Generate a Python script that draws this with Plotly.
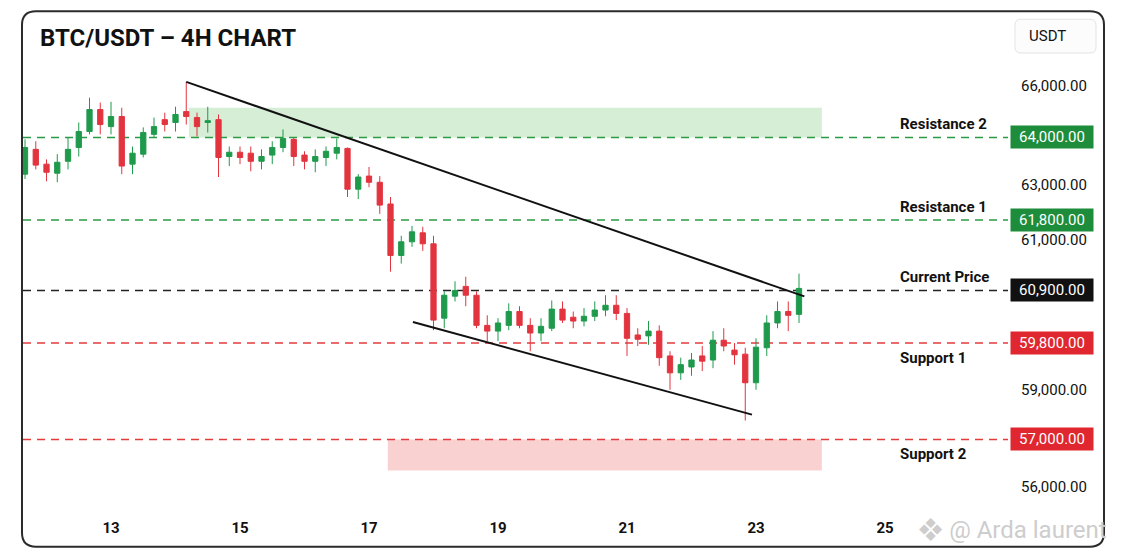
import numpy as np
import pandas as pd
import plotly.graph_objects as go

# BTC/USDT 4H candles
OPEN = [63230, 63750, 63440, 63250, 63500, 63790, 64230, 65080, 64420, 64810,
        63440, 63650, 64120, 64690, 64580, 65000, 64770, 64580, 64690, 63600,
        63690, 63670, 63500, 63630, 63790, 63960, 63630, 63500, 63580, 63670,
        63770, 62860, 63190, 63060, 62350, 60969, 60996, 61280, 60992, 60320,
        60780, 60908, 60800, 60170, 60050, 60170, 60460, 60170, 60010, 60110,
        60510, 60340, 60260, 60360, 60490, 60590, 60420, 59970, 59950, 60050,
        59580, 59290, 59390, 59580, 59510, 59860, 59680, 59610, 59120, 59720,
        60220, 60460, 60400]
HIGH = [63960, 63920, 63540, 63650, 64000, 64580, 65540, 65350, 65380, 65150,
        63810, 64390, 64770, 64960, 65190, 66150, 64960, 65190, 64890, 63810,
        63810, 63810, 63750, 63920, 64310, 64000, 63710, 63750, 63810, 63980,
        63790, 63230, 63380, 63190, 62590, 61160, 61560, 61520, 61160, 60880,
        60918, 60927, 60880, 60380, 60320, 60630, 60570, 60320, 60320, 60690,
        60670, 60460, 60530, 60670, 60800, 60800, 60530, 60110, 60260, 60170,
        59660, 59550, 59630, 59750, 60050, 60110, 59800, 59720, 59900, 60380,
        60670, 60670, 60933]
LOW = [63130, 63330, 63080, 63060, 63330, 63600, 64120, 64120, 64120, 63230,
       63230, 63580, 64000, 64230, 64230, 64500, 64040, 64190, 63170, 63400,
       63440, 63290, 63330, 63440, 63690, 63400, 63330, 63270, 63400, 63540,
       62590, 62520, 62930, 62010, 60937, 60953, 60986, 60978, 60070, 60110,
       60670, 60570, 60110, 59840, 59840, 60070, 60110, 59660, 59840, 60050,
       60220, 60110, 60150, 60260, 60360, 60280, 59580, 59750, 59770, 59410,
       59000, 59170, 59240, 59320, 59370, 59660, 59430, 57760, 59000, 59580,
       60110, 60050, 60220]
CLOSE = [63790, 63420, 63270, 63480, 63750, 64230, 65080, 64500, 64810, 63400,
         63670, 64190, 64420, 64500, 64890, 64810, 64420, 64650, 63580, 63690,
         63580, 63500, 63600, 63790, 63980, 63600, 63500, 63600, 63710, 63790,
         62860, 63170, 63060, 62310, 60969, 60996, 61320, 60992, 60280, 60800,
         60900, 60800, 60170, 60050, 60220, 60460, 60170, 60010, 60150, 60510,
         60280, 60260, 60360, 60490, 60590, 60420, 59900, 59880, 60050, 59550,
         59290, 59430, 59510, 59490, 59860, 59750, 59600, 59120, 59730, 60220,
         60460, 60380, 60904]
TIMES = pd.date_range("2024-08-11 16:00", periods=len(OPEN), freq="4h")

LEVEL_NAMES = ["Resistance 2", "Resistance 1", "Current Price", "Support 1", "Support 2"]
LEVEL_PRICES = [64000, 61800, 60900, 59800, 57000]
CURRENT_PRICE = 60900

RES_ZONE_T = ["2024-08-14 05:00", "2024-08-24 00:30"]
RES_ZONE_P = [64000, 65150]
SUP_ZONE_T = ["2024-08-17 07:00", "2024-08-24 00:30"]
SUP_ZONE_P = [56350, 57000]

UPPER_TREND_T = ["2024-08-14 04:00", "2024-08-23 18:00"]
UPPER_TREND_P = [66150, 60775]
LOWER_TREND_T = ["2024-08-17 16:20", "2024-08-22 22:30"]
LOWER_TREND_P = [60240, 58000]

AXIS_TICKS = [56000, 59000, 61000, 63000, 66000]
DAY_TICKS = pd.date_range("2024-08-13", "2024-08-25", freq="2D")

# the source chart's price axis is not linear, this maps price -> axis position
SCALE_PRICES = [55000, 56000, 57000, 59000, 59800, 60900, 61000, 61800, 63000, 64000, 66000, 67000]
SCALE_POS = [-48, 0, 48, 98, 145, 198, 249, 269, 304, 352, 404, 430]


def to_axis(p):
    return np.interp(p, SCALE_PRICES, SCALE_POS)


GREEN = "#1f9a4c"
RED = "#e2343f"
BOX_GREEN = "#1d8d3b"
BOX_RED = "#e0262f"
INK = "#111111"
FONT = "Roboto, Inter, sans-serif"

# page has an 8px body margin, so the figure is 16px smaller than the window
PAGE_OFF = 8
W, H = 1106, 541
ML, MR, MT, MB = 15, 106, 47, 41
PW, PH = W - ML - MR, H - MT - MB


def px_x(x):
    # x on the page -> paper coordinate
    return (x - PAGE_OFF - ML) / PW


def px_y(y):
    return (H - MB - (y - PAGE_OFF)) / PH


def rounded_rect(x0, y0, x1, y1, r):
    def p(x, y):
        return f"{px_x(x):.5f},{px_y(y):.5f}"
    return (f"M {p(x0 + r, y0)} L {p(x1 - r, y0)} Q {p(x1, y0)} {p(x1, y0 + r)} "
            f"L {p(x1, y1 - r)} Q {p(x1, y1)} {p(x1 - r, y1)} "
            f"L {p(x0 + r, y1)} Q {p(x0, y1)} {p(x0, y1 - r)} "
            f"L {p(x0, y0 + r)} Q {p(x0, y0)} {p(x0 + r, y0)} Z")


hover = [f"O {o:,.0f}<br>H {h:,.0f}<br>L {l:,.0f}<br>C {c:,.0f}"
         for o, h, l, c in zip(OPEN, HIGH, LOW, CLOSE)]

fig = go.Figure()

fig.add_trace(go.Candlestick(
    x=TIMES, open=to_axis(OPEN), high=to_axis(HIGH), low=to_axis(LOW), close=to_axis(CLOSE),
    increasing=dict(line=dict(color=GREEN, width=1), fillcolor=GREEN),
    decreasing=dict(line=dict(color=RED, width=1), fillcolor=RED),
    whiskerwidth=0, hovertext=hover, hoverinfo="x+text", showlegend=False,
))

for t, p in [(UPPER_TREND_T, UPPER_TREND_P), (LOWER_TREND_T, LOWER_TREND_P)]:
    fig.add_trace(go.Scatter(x=t, y=to_axis(p), mode="lines",
                             line=dict(color=INK, width=2), hoverinfo="skip", showlegend=False))

# zones
fig.add_shape(type="rect", x0=RES_ZONE_T[0], x1=RES_ZONE_T[1],
              y0=to_axis(RES_ZONE_P[0]), y1=to_axis(RES_ZONE_P[1]),
              fillcolor="rgba(70,175,70,0.22)", line_width=0, layer="below")
fig.add_shape(type="rect", x0=SUP_ZONE_T[0], x1=SUP_ZONE_T[1],
              y0=to_axis(SUP_ZONE_P[0]), y1=to_axis(SUP_ZONE_P[1]),
              fillcolor="rgba(235,70,70,0.25)", line_width=0, layer="below")

# levels
for name, price in zip(LEVEL_NAMES, LEVEL_PRICES):
    if price > CURRENT_PRICE:
        line_c, box_c = "#2a9a45", BOX_GREEN
    elif price < CURRENT_PRICE:
        line_c, box_c = "#e43b3b", BOX_RED
    else:
        line_c, box_c = "#222222", INK
    y = float(to_axis(price))
    fig.add_shape(type="line", xref="paper", x0=0, x1=1, y0=y, y1=y,
                  line=dict(color=line_c, width=1.5, dash="8px,6px"), layer="below")
    fig.add_annotation(xref="paper", x=1, xanchor="left", xshift=2, y=y, yref="y",
                       yanchor="middle", text=f"{price:,.2f}", showarrow=False,
                       font=dict(family=FONT, size=15, color="white"),
                       bgcolor=box_c, width=78, height=18, borderpad=2)
    fig.add_annotation(xref="paper", x=px_x(898), xanchor="left", y=y, yref="y",
                       yanchor="middle", yshift=13 if price >= CURRENT_PRICE else -15,
                       text=f"<b>{name}</b>", showarrow=False,
                       font=dict(family=FONT, size=15, color=INK))

# frame, currency box, watermark
fig.add_shape(type="path", xref="paper", yref="paper", path=rounded_rect(22, 11, 1104, 550, 14),
              line=dict(color="#2b2b2b", width=2))
fig.add_shape(type="path", xref="paper", yref="paper", path=rounded_rect(1015, 19, 1096, 53, 6),
              line=dict(color="#e3e3e3", width=1), fillcolor="#fcfcfc")
fig.add_annotation(xref="paper", yref="paper", x=px_x(1027), y=px_y(36), xanchor="left",
                   yanchor="middle", text="USDT", showarrow=False,
                   font=dict(family=FONT, size=15, color=INK))
fig.add_annotation(xref="paper", yref="paper", x=px_x(916), y=px_y(533), xanchor="left",
                   yanchor="middle", text="❖ @ Arda laurent", showarrow=False,
                   font=dict(family=FONT, size=24, color="#cdcdcd"))

fig.update_layout(
    width=W, height=H,
    margin=dict(l=ML, r=MR, t=MT, b=MB),
    paper_bgcolor="white", plot_bgcolor="white",
    title=dict(text="<b>BTC/USDT – 4H CHART</b>", xref="container", yref="container",
               x=(40 - PAGE_OFF) / W, y=1 - (38 - PAGE_OFF) / H, xanchor="left", yanchor="middle",
               font=dict(family=FONT, size=24, color=INK)),
    font=dict(family=FONT, color=INK),
    hovermode="closest",
)
fig.update_xaxes(
    range=["2024-08-11 15:15", "2024-08-26 21:46"],
    rangeslider_visible=False, showgrid=False, zeroline=False, showline=False,
    tickvals=DAY_TICKS, tickformat="%d", ticks="outside", ticklen=9,
    tickcolor="rgba(0,0,0,0)", tickfont=dict(family=FONT, size=15, color=INK, weight="bold"),
)
fig.update_yaxes(
    range=[-18, 435], side="right", showgrid=False, zeroline=False, showline=False,
    tickvals=to_axis(AXIS_TICKS), ticktext=[f"{v:,.2f}" for v in AXIS_TICKS],
    ticks="", ticklabelstandoff=12, tickfont=dict(family=FONT, size=15, color=INK),
)

fig.write_html("out.html")
